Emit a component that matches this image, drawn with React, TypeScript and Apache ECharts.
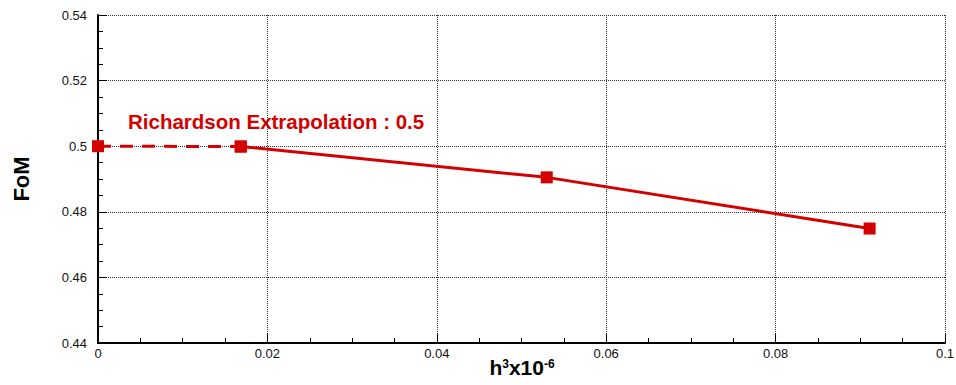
import React, { useEffect, useRef } from "react";
import * as echarts from "echarts";

const extrapX = [0, 0.01685];
const extrapY = [0.5, 0.4999];
const gridX = [0.01685, 0.05298, 0.0911];
const gridY = [0.4999, 0.4905, 0.4749];
const annotation = "Richardson Extrapolation : 0.5";
const xTitle = "{h|h}{sup|3}{h|x10}{sup|-6}";
const yTitle = "FoM";
const RED = "#d40000";

export default function App() {
  const ref = useRef<HTMLDivElement>(null);
  useEffect(() => {
    if (!ref.current) return;
    const chart = echarts.init(ref.current, null, { renderer: "svg" });
    const font = "'Liberation Sans', Arial, sans-serif";
    chart.setOption({
      animation: false,
      backgroundColor: "#fff",
      grid: { left: 98, right: 11, top: 15, bottom: 42, containLabel: false, outerBoundsMode: "none" },
      xAxis: {
        type: "value",
        min: 0,
        max: 0.1,
        interval: 0.02,
        axisLine: { show: true, onZero: false, lineStyle: { color: "#000", width: 2 } },
        axisTick: { show: true, inside: true, length: 9, lineStyle: { color: "#000", width: 1 } },
        minorTick: { show: true, splitNumber: 4, length: 5, lineStyle: { color: "#000", width: 1 } },
        axisLabel: {
          margin: 4,
          fontFamily: font,
          fontSize: 13,
          color: "#111",
          formatter: (v: number) => String(parseFloat(v.toFixed(4))),
        },
        splitLine: { show: true, lineStyle: { type: "dotted", color: "#333", width: 1 } },
      },
      yAxis: {
        type: "value",
        min: 0.44,
        max: 0.54,
        interval: 0.02,
        name: yTitle,
        nameLocation: "middle",
        nameGap: 66,
        nameRotate: 90,
        nameTextStyle: { fontFamily: font, fontWeight: "bold", fontSize: 22, color: "#000" },
        axisLine: { show: true, onZero: false, lineStyle: { color: "#000", width: 2 } },
        axisTick: { show: true, inside: true, length: 9, lineStyle: { color: "#000", width: 1 } },
        minorTick: { show: true, splitNumber: 4, length: 5, lineStyle: { color: "#000", width: 1 } },
        axisLabel: {
          margin: 11,
          fontFamily: font,
          fontSize: 13,
          color: "#111",
          formatter: (v: number) => String(parseFloat(v.toFixed(4))),
        },
        splitLine: { show: true, lineStyle: { type: "dotted", color: "#333", width: 1 } },
      },
      graphic: [
        {
          type: "text",
          x: 128,
          y: 121,
          style: {
            text: annotation,
            fill: RED,
            font: `bold 20.5px ${font}`,
            verticalAlign: "middle",
          },
        },
        {
          type: "text",
          x: 522,
          y: 368,
          style: {
            text: xTitle,
            align: "center",
            verticalAlign: "middle",
            rich: {
              h: { fontFamily: font, fontWeight: "bold", fontSize: 21, fill: "#000", lineHeight: 20, verticalAlign: "bottom" },
              sup: { fontFamily: font, fontWeight: "bold", fontSize: 12, fill: "#000", lineHeight: 12, verticalAlign: "top" },
            },
          },
        },
      ],
      series: [
        {
          type: "line",
          data: extrapX.map((x, i) => [x, extrapY[i]]),
          symbol: "rect",
          symbolSize: 12,
          showAllSymbol: true,
          itemStyle: { color: RED },
          lineStyle: { color: RED, width: 3, type: [13, 9] },
          z: 3,
        },
        {
          type: "line",
          data: gridX.map((x, i) => [x, gridY[i]]),
          symbol: "rect",
          symbolSize: 12,
          showAllSymbol: true,
          itemStyle: { color: RED },
          lineStyle: { color: RED, width: 3 },
          z: 4,
        },
      ],
    });
    return () => chart.dispose();
  }, []);
  return (
    <div
      ref={ref}
      style={{ position: "absolute", left: 0, top: 0, width: 956, height: 385 }}
    />
  );
}
